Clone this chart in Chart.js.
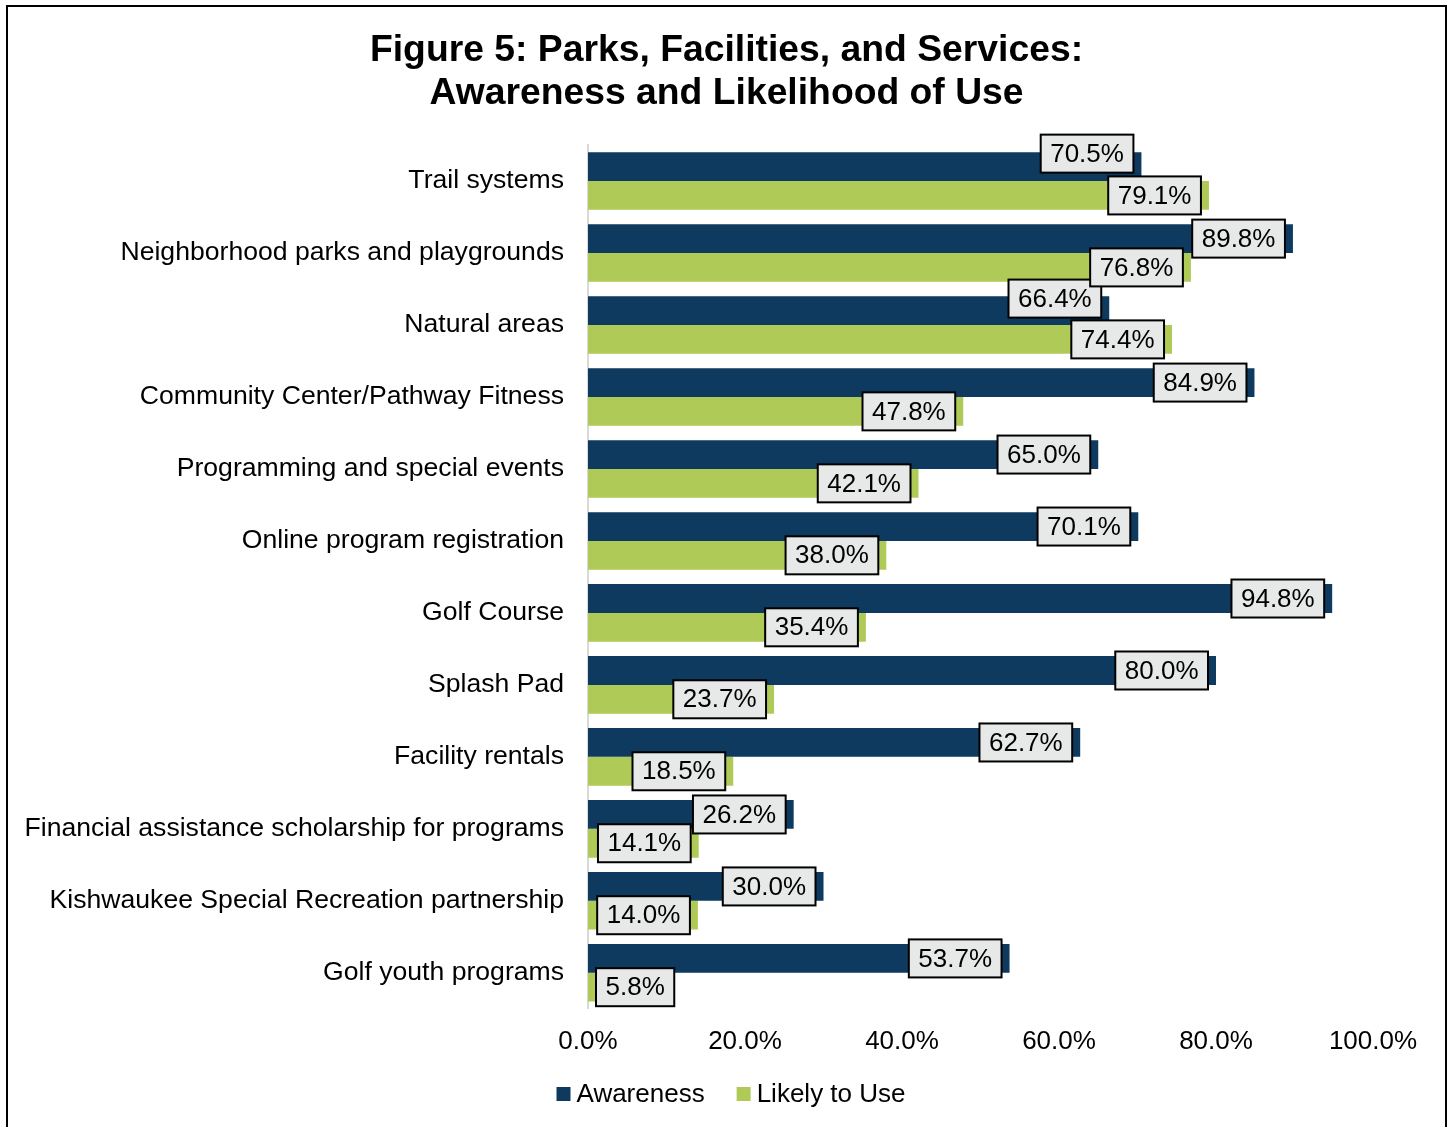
<!DOCTYPE html>
<html>
<head>
<meta charset="utf-8">
<title>Figure 5</title>
<script src="https://cdn.jsdelivr.net/npm/chart.js@4.4.1/dist/chart.umd.min.js"></script>
<style>
  body { margin: 0; background: #fff; }
  canvas { display: block; }
</style>
</head>
<body>
<canvas id="myChart" width="1453" height="1127"></canvas>
<script>
const categories = [
    "Trail systems",
    "Neighborhood parks and playgrounds",
    "Natural areas",
    "Community Center/Pathway Fitness",
    "Programming and special events",
    "Online program registration",
    "Golf Course",
    "Splash Pad",
    "Facility rentals",
    "Financial assistance scholarship for programs",
    "Kishwaukee Special Recreation partnership",
    "Golf youth programs"
];
const awareness = [70.5, 89.8, 66.4, 84.9, 65.0, 70.1, 94.8, 80.0, 62.7, 26.2, 30.0, 53.7];
const likelyToUse = [79.1, 76.8, 74.4, 47.8, 42.1, 38.0, 35.4, 23.7, 18.5, 14.1, 14.0, 5.8];
const xMin = 0;
const xMax = 100;
const xStep = 20;

const FONT = "'Liberation Sans', Arial, sans-serif";
const NAVY = "#0e3a5f";
const GREEN = "#afca56";

// deux étiquettes remontées à la main dans l'original (dataset 0)
const labelNudge = { 0: -13, 2: -12 };

// cadre noir autour de la figure
const framePlugin = {
    id: 'frame',
    beforeDraw(chart) {
        const ctx = chart.ctx;
        ctx.save();
        ctx.fillStyle = '#fff';
        ctx.fillRect(0, 0, chart.width, chart.height);
        ctx.strokeStyle = '#000';
        ctx.lineWidth = 2;
        ctx.strokeRect(7, 6, 1439, 1140);
        ctx.restore();
    }
};

// étiquettes de valeur dans des boites grises
const boxLabelsPlugin = {
    id: 'boxLabels',
    afterDatasetsDraw(chart) {
        const ctx = chart.ctx;
        const left = chart.chartArea.left;
        ctx.save();
        ctx.font = "26px " + FONT;
        ctx.textBaseline = 'middle';
        ctx.textAlign = 'left';
        chart.data.datasets.forEach((ds, di) => {
            const meta = chart.getDatasetMeta(di);
            meta.data.forEach((el, i) => {
                const txt = ds.data[i].toFixed(1) + '%';
                const w = ctx.measureText(txt).width + 19;
                const h = 38;
                let x1 = el.x - 8;
                let x0 = x1 - w;
                if (x0 < left + 8) {
                    x0 = left + 8;
                    x1 = x0 + w;
                }
                let cy = el.y;
                if (di === 0 && labelNudge[i]) cy += labelNudge[i];
                ctx.fillStyle = '#e7e8e8';
                ctx.fillRect(x0, cy - h / 2, w, h);
                ctx.strokeStyle = '#000';
                ctx.lineWidth = 2;
                ctx.strokeRect(x0, cy - h / 2, w, h);
                ctx.fillStyle = '#000';
                ctx.fillText(txt, x0 + 9.5, cy + 1);
            });
        });
        ctx.restore();
    }
};

// légende en bas, dessinée à la main (carré + texte collé)
const legendPlugin = {
    id: 'bottomLegend',
    afterDraw(chart) {
        const ctx = chart.ctx;
        ctx.save();
        ctx.font = "26px " + FONT;
        ctx.textBaseline = 'middle';
        ctx.textAlign = 'left';
        const items = chart.data.datasets;
        let total = 0;
        items.forEach((ds, i) => {
            total += 14 + 6 + ctx.measureText(ds.label).width;
            if (i > 0) total += 32;
        });
        let x = 731 - total / 2;
        const y = 1094;
        items.forEach((ds) => {
            ctx.fillStyle = ds.backgroundColor;
            ctx.fillRect(x, y - 7, 14, 14);
            ctx.fillStyle = '#000';
            ctx.fillText(ds.label, x + 20, y + 1);
            x += 20 + ctx.measureText(ds.label).width + 32;
        });
        ctx.restore();
    }
};

const config = {
    type: 'bar',
    data: {
        labels: categories,
        datasets: [{
            label: 'Awareness',
            data: awareness,
            backgroundColor: NAVY,
            borderWidth: 0,
            categoryPercentage: 0.8,
            barPercentage: 1.0
        }, {
            label: 'Likely to Use',
            data: likelyToUse,
            backgroundColor: GREEN,
            borderWidth: 0,
            categoryPercentage: 0.8,
            barPercentage: 1.0
        }]
    },
    options: {
        indexAxis: 'y',
        responsive: false,
        animation: false,
        layout: {
            padding: { top: 0, right: 0, bottom: 53, left: 0 }
        },
        scales: {
            x: {
                min: xMin,
                max: xMax,
                grid: { display: false, drawTicks: false },
                border: { display: false },
                ticks: {
                    stepSize: xStep,
                    color: '#000',
                    padding: 17,
                    font: { family: FONT, size: 26 },
                    callback: (v) => v.toFixed(1) + '%'
                },
                // place à droite pour que 100 % tombe à x=1373
                afterFit: (scale) => { scale.paddingRight = 80; }
            },
            y: {
                grid: { display: false, drawTicks: false },
                border: { display: true, color: '#d9d9d9', width: 2 },
                ticks: {
                    color: '#000',
                    padding: 24,
                    font: { family: FONT, size: 26.6 }
                },
                afterFit: (scale) => { scale.width = 588; }
            }
        },
        plugins: {
            title: {
                display: true,
                text: ['Figure 5: Parks, Facilities, and Services:', 'Awareness and Likelihood of Use'],
                color: '#000',
                font: { family: FONT, size: 37.3, weight: 'bold', lineHeight: 1.16 },
                padding: { top: 29, bottom: 29.5 }
            },
            legend: { display: false },
            tooltip: { enabled: false }
        }
    },
    plugins: [framePlugin, boxLabelsPlugin, legendPlugin]
};

const myChart = new Chart(document.getElementById('myChart'), config);
</script>
</body>
</html>
